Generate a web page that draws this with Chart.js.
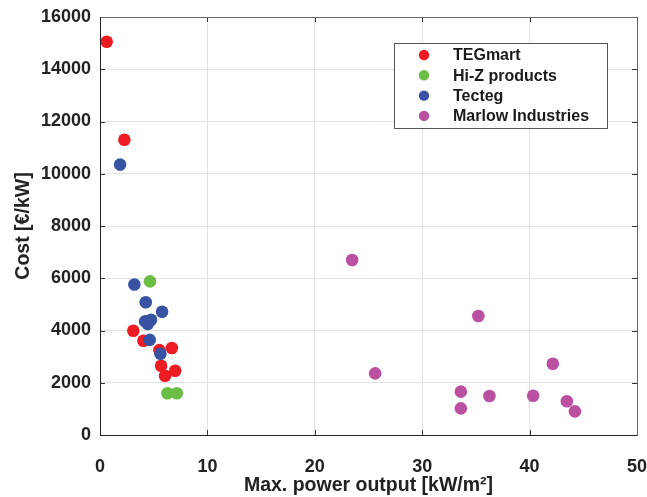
<!DOCTYPE html>
<html>
<head>
<meta charset="utf-8">
<script src="https://cdn.jsdelivr.net/npm/chart.js@4/dist/chart.umd.min.js"></script>
<style>
  html, body { margin: 0; padding: 0; background: #fff; }
  #wrap { width: 647px; height: 497px; }
</style>
</head>
<body>
<div id="wrap"><canvas id="c" width="647" height="497"></canvas></div>
<script>
// values
const seriesNames = ["TEGmart", "Hi-Z products", "Tecteg", "Marlow Industries"];
const seriesColors = ["#ed1c24", "#6abd45", "#3953a4", "#bb50a0"];

const tegmartX = [0.62, 2.27, 3.1, 4.04, 5.53, 6.69, 5.69, 7.0, 6.06];
const tegmartY = [15050, 11300, 3990, 3610, 3250, 3330, 2650, 2460, 2270];

const hizX = [4.66, 6.28, 7.15];
const hizY = [5880, 1600, 1600];

const tectegX = [1.87, 3.2, 4.26, 5.78, 4.2, 4.75, 4.45, 4.63, 5.63];
const tectegY = [10350, 5760, 5080, 4720, 4350, 4410, 4250, 3640, 3110];

const marlowX = [23.48, 35.23, 25.62, 33.6, 33.6, 36.26, 40.33, 42.16, 43.47, 44.22];
const marlowY = [6700, 4555, 2360, 1660, 1020, 1490, 1505, 2730, 1290, 905];

const xTicks = [0, 10, 20, 30, 40, 50];
const yTicks = [0, 2000, 4000, 6000, 8000, 10000, 12000, 14000, 16000];

const FONT = "'Liberation Sans', Arial, sans-serif";

function pts(xs, ys) {
    return xs.map((x, i) => ({ x, y: ys[i] }));
}

const allX = [tegmartX, hizX, tectegX, marlowX];
const allY = [tegmartY, hizY, tectegY, marlowY];

const datasets = seriesNames.map((name, i) => ({
    label: name,
    data: pts(allX[i], allY[i]),
    backgroundColor: seriesColors[i],
    borderColor: seriesColors[i],
    borderWidth: 0,
    pointRadius: 6.3,
    pointHoverRadius: 6.3,
    order: seriesNames.length - i,
}));

// box, inward ticks and the in-plot legend
const boxPlugin = {
    id: "box",
    afterDraw(chart) {
        const { ctx, chartArea: a, scales } = chart;
        ctx.save();
        ctx.lineWidth = 1;
        // ticks pointing inward
        ctx.strokeStyle = "#333";
        ctx.beginPath();
        xTicks.forEach(v => {
            const px = Math.round(scales.x.getPixelForValue(v)) + 0.5;
            ctx.moveTo(px, a.bottom); ctx.lineTo(px, a.bottom - 5);
            ctx.moveTo(px, a.top); ctx.lineTo(px, a.top + 5);
        });
        yTicks.forEach(v => {
            const py = Math.round(scales.y.getPixelForValue(v)) + 0.5;
            ctx.moveTo(a.left, py); ctx.lineTo(a.left + 5, py);
            ctx.moveTo(a.right, py); ctx.lineTo(a.right - 5, py);
        });
        ctx.stroke();
        // frame
        const l = Math.round(a.left) + 0.5, r = Math.round(a.right) + 0.5;
        const t = Math.round(a.top) + 0.5, b = Math.round(a.bottom) + 0.5;
        ctx.strokeStyle = "#666";
        ctx.beginPath();
        ctx.moveTo(l, t); ctx.lineTo(r, t); ctx.lineTo(r, b);
        ctx.stroke();
        ctx.strokeStyle = "#222";
        ctx.beginPath();
        ctx.moveTo(l, t); ctx.lineTo(l, b); ctx.lineTo(r, b);
        ctx.stroke();

        // legend
        const lx = 394.5, ly = 43.5, lw = 213, lh = 85;
        ctx.fillStyle = "#fff";
        ctx.fillRect(lx, ly, lw, lh);
        ctx.strokeStyle = "#555";
        ctx.strokeRect(lx, ly, lw, lh);
        ctx.font = "bold 16px " + FONT;
        ctx.textBaseline = "middle";
        ctx.textAlign = "left";
        chart.data.datasets.forEach((ds, i) => {
            const cy = 55 + i * 20.3;
            ctx.fillStyle = ds.backgroundColor;
            ctx.beginPath();
            ctx.arc(424, cy, 5.2, 0, Math.PI * 2);
            ctx.fill();
            ctx.fillStyle = "#1a1a1a";
            ctx.fillText(ds.label, 453, cy + 1);
        });
        ctx.restore();
    },
};

new Chart(document.getElementById("c"), {
    type: "scatter",
    data: { datasets },
    plugins: [boxPlugin],
    options: {
        responsive: false,
        animation: false,
        layout: { padding: { top: 17, right: 10, left: 0, bottom: 0 } },
        plugins: {
            legend: { display: false },
            tooltip: { enabled: false },
        },
        scales: {
            x: {
                type: "linear",
                min: 0,
                max: 50,
                afterBuildTicks: s => { s.ticks = xTicks.map(v => ({ value: v })); },
                afterFit: s => { s.height = 62; s.paddingLeft = 0; s.paddingRight = 0; },
                grid: { color: "#e2e2e2", drawTicks: false },
                border: { display: false },
                ticks: {
                    color: "#222",
                    font: { family: FONT, size: 18, weight: "bold" },
                    padding: 21,
                    maxRotation: 0,
                    callback: v => String(v),
                },
                title: {
                    display: true,
                    text: "Max. power output [kW/m²]",
                    color: "#222",
                    font: { family: FONT, size: 19.5, weight: "bold" },
                    padding: { top: 0, bottom: 0 },
                },
            },
            y: {
                type: "linear",
                min: 0,
                max: 16000,
                afterBuildTicks: s => { s.ticks = yTicks.map(v => ({ value: v })); },
                afterFit: s => { s.width = 100; s.paddingTop = 0; s.paddingBottom = 0; },
                grid: { color: "#e2e2e2", drawTicks: false },
                border: { display: false },
                ticks: {
                    color: "#222",
                    font: { family: FONT, size: 18, weight: "bold" },
                    padding: 9,
                    callback: v => String(v),
                },
                title: {
                    display: true,
                    text: "Cost [€/kW]",
                    color: "#222",
                    font: { family: FONT, size: 19.5, weight: "bold" },
                    padding: { top: 12, bottom: 0 },
                },
            },
        },
    },
});
</script>
</body>
</html>
